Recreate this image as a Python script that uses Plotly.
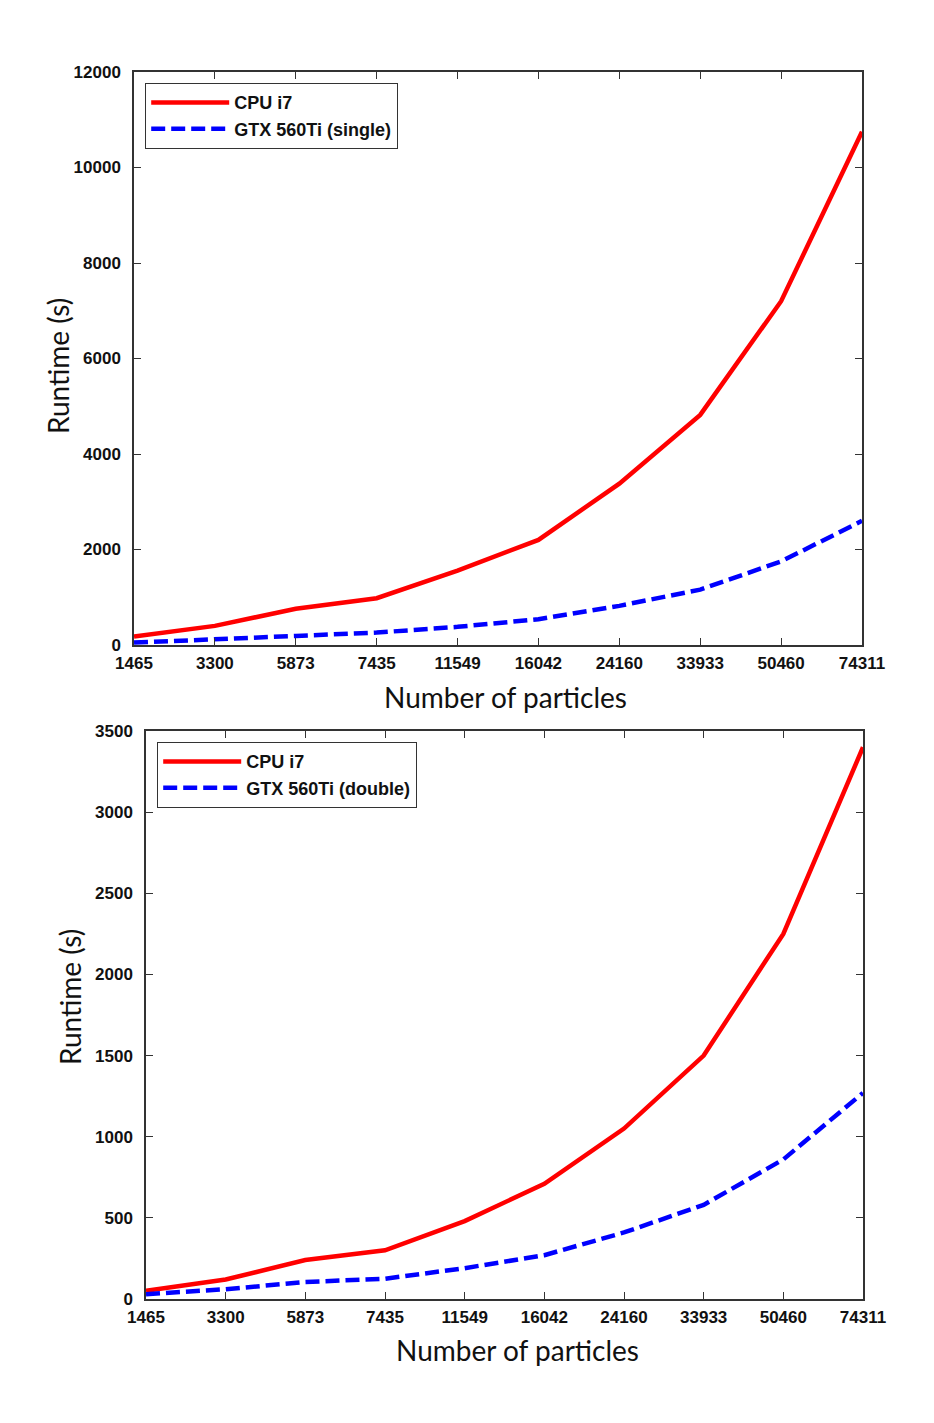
import plotly.graph_objects as go

W, H = 934, 1423

particles = ["1465", "3300", "5873", "7435", "11549", "16042", "24160", "33933", "50460", "74311"]

cpu_top = [180, 400, 760, 980, 1560, 2200, 3380, 4820, 7200, 10750]
gpu_single = [50, 110, 190, 260, 380, 540, 820, 1160, 1750, 2600]

cpu_bottom = [50, 120, 240, 300, 480, 710, 1050, 1500, 2250, 3400]
gpu_double = [30, 60, 105, 125, 190, 270, 410, 580, 860, 1270]

RED = "#ff0000"
BLUE = "#0000ff"
TICKFONT = dict(family="Liberation Sans, Arial, sans-serif", size=17, color="#111111", weight="bold")
LEGFONT = dict(family="Liberation Sans, Arial, sans-serif", size=18, color="#111111", weight="bold")
TITLEFONT = dict(family="Lato, Carlito, Calibri, sans-serif", size=28, color="#111111")

def px(x):
    return x / W

def py(y):
    return 1 - y / H

fig = go.Figure()

fig.add_trace(go.Scatter(x=particles, y=cpu_top, mode="lines", name="CPU i7",
                         line=dict(color=RED, width=4.5), xaxis="x", yaxis="y", legend="legend"))
fig.add_trace(go.Scatter(x=particles, y=gpu_single, mode="lines", name="GTX 560Ti (single)",
                         line=dict(color=BLUE, width=4.5, dash="14px,6px"), xaxis="x", yaxis="y", legend="legend"))
fig.add_trace(go.Scatter(x=particles, y=cpu_bottom, mode="lines", name="CPU i7",
                         line=dict(color=RED, width=4.5), xaxis="x2", yaxis="y2", legend="legend2"))
fig.add_trace(go.Scatter(x=particles, y=gpu_double, mode="lines", name="GTX 560Ti (double)",
                         line=dict(color=BLUE, width=4.5, dash="14px,6px"), xaxis="x2", yaxis="y2", legend="legend2"))

axis_common = dict(showline=True, linecolor="#333333", linewidth=1.5, mirror="ticks",
                   ticks="inside", ticklen=7, tickwidth=1.2, tickcolor="#333333",
                   showgrid=False, zeroline=False, tickfont=TICKFONT, automargin=False)

fig.update_layout(
    template="none",
    width=W, height=H,
    margin=dict(l=0, r=0, t=0, b=0, pad=0, autoexpand=False),
    paper_bgcolor="white", plot_bgcolor="white",
    xaxis=dict(domain=[px(134), px(862)], anchor="y", type="category",
               range=[0, len(particles) - 1], ticklabelstandoff=2, **axis_common),
    yaxis=dict(domain=[py(645), py(72)], anchor="x", range=[0, 12000], dtick=2000,
               tickformat="d", ticklabelstandoff=8, **axis_common),
    xaxis2=dict(domain=[px(146), px(863)], anchor="y2", type="category",
                range=[0, len(particles) - 1], ticklabelstandoff=2, **axis_common),
    yaxis2=dict(domain=[py(1299), py(731)], anchor="x2", range=[0, 3500], dtick=500,
                tickformat="d", ticklabelstandoff=8, **axis_common),
    legend=dict(x=px(145), y=py(83), xanchor="left", yanchor="top",
                bgcolor="white", bordercolor="#333333", borderwidth=1.2,
                font=LEGFONT, tracegroupgap=0, itemwidth=78),
    legend2=dict(x=px(157), y=py(742), xanchor="left", yanchor="top",
                 bgcolor="white", bordercolor="#333333", borderwidth=1.2,
                 font=LEGFONT, tracegroupgap=0, itemwidth=78),
    showlegend=True,
)

annotations = [
    dict(text="Number of particles", x=px(505), y=py(697), xref="paper", yref="paper",
         showarrow=False, font=TITLEFONT, xanchor="center", yanchor="middle"),
    dict(text="Runtime (s)", x=px(58), y=py(366), xref="paper", yref="paper",
         showarrow=False, font=TITLEFONT, textangle=-90, xanchor="center", yanchor="middle"),
    dict(text="Number of particles", x=px(517), y=py(1350), xref="paper", yref="paper",
         showarrow=False, font=TITLEFONT, xanchor="center", yanchor="middle"),
    dict(text="Runtime (s)", x=px(70), y=py(997), xref="paper", yref="paper",
         showarrow=False, font=TITLEFONT, textangle=-90, xanchor="center", yanchor="middle"),
]
fig.update_layout(annotations=annotations)

fig.write_html("out.html")
